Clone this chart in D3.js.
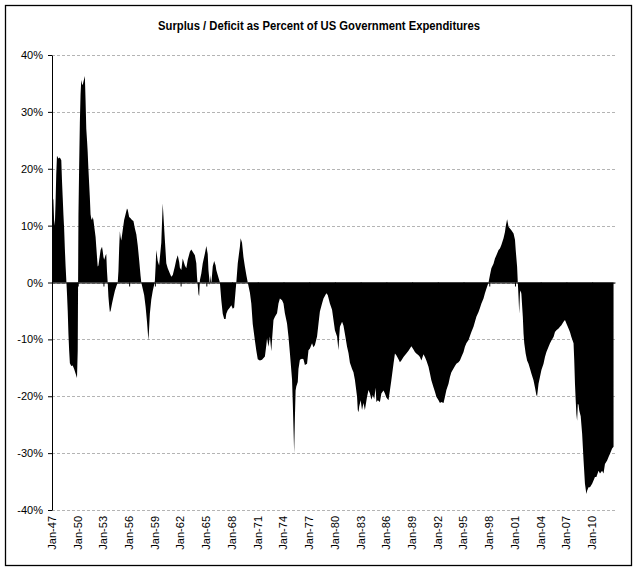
<!DOCTYPE html>
<html><head><meta charset="utf-8">
<script src="https://cdn.jsdelivr.net/npm/d3@7"></script>
<style>body{margin:0;background:#fff}svg{display:block}</style>
</head><body><svg id="c" width="638" height="571"></svg>
<script>
const title = "Surplus / Deficit as Percent of US Government Expenditures";
const dates = [
"1947-01","1947-03","1947-04","1947-05","1947-06","1947-07","1947-08","1947-10","1947-12",
"1948-02","1948-03","1948-04","1948-05","1948-06","1948-07","1948-08","1948-09","1948-10","1948-11","1948-12",
"1949-01","1949-02","1949-04","1949-06","1949-08","1949-10","1949-12",
"1950-01","1950-02","1950-03","1950-04","1950-05","1950-06","1950-07","1950-08","1950-09","1950-10","1950-11","1950-12",
"1951-01","1951-02","1951-03","1951-04","1951-05","1951-06","1951-07","1951-08","1951-09","1951-10","1951-11","1951-12",
"1952-01","1952-02","1952-03","1952-04","1952-05","1952-06","1952-07","1952-08","1952-09","1952-11","1952-12",
"1953-01","1953-02","1953-04","1953-05","1953-06","1953-07","1953-08","1953-09","1953-10","1953-11",
"1954-01","1954-03","1954-05","1954-07","1954-09","1954-10","1954-11","1954-12",
"1955-01","1955-02","1955-04","1955-06","1955-08","1955-10","1955-11",
"1956-01","1956-03","1956-05","1956-07","1956-09","1956-11",
"1957-01","1957-03","1957-05","1957-06","1957-08","1957-10","1957-12",
"1958-02","1958-04","1958-05","1958-06","1958-08","1958-10","1958-12",
"1959-01","1959-02","1959-03","1959-05","1959-07","1959-10","1959-12",
"1960-03","1960-05","1960-07","1960-10","1960-12",
"1961-02","1961-05","1961-07","1961-09","1961-11","1961-12",
"1962-02","1962-04","1962-07","1962-09","1962-11",
"1963-02","1963-04","1963-06","1963-09","1963-11","1963-12",
"1964-02","1964-03","1964-04","1964-06","1964-08","1964-11",
"1965-01","1965-03","1965-04","1965-06","1965-07","1965-08","1965-10","1965-12",
"1966-02","1966-03","1966-05","1966-08","1966-10","1966-12",
"1967-02","1967-04","1967-05","1967-07","1967-10","1967-12",
"1968-02","1968-04","1968-06","1968-07","1968-09","1968-12",
"1969-01","1969-03","1969-05","1969-07","1969-09","1969-11",
"1970-02","1970-04","1970-06","1970-09","1970-11",
"1971-01","1971-04","1971-07","1971-11",
"1972-01","1972-02","1972-04","1972-06","1972-08","1972-09","1972-11",
"1973-01","1973-04","1973-06","1973-08","1973-11",
"1974-01","1974-03","1974-06","1974-08","1974-10",
"1975-01","1975-02","1975-03","1975-04","1975-05","1975-06","1975-07","1975-09","1975-10","1975-12",
"1976-03","1976-05","1976-07","1976-10","1976-12",
"1977-02","1977-05","1977-07","1977-09","1977-12",
"1978-02","1978-04","1978-07","1978-09",
"1979-01","1979-03","1979-06","1979-09","1979-11",
"1980-01","1980-04","1980-06","1980-07","1980-08","1980-11",
"1981-01","1981-03","1981-06","1981-08","1981-10",
"1982-01","1982-03","1982-05","1982-08","1982-09","1982-10","1982-11",
"1983-01","1983-03","1983-05","1983-07","1983-10","1983-12",
"1984-02","1984-04","1984-06","1984-08","1984-10","1984-11",
"1985-01","1985-04","1985-06","1985-09","1985-11",
"1986-01","1986-04","1986-06","1986-08","1986-11",
"1987-01","1987-03","1987-06","1987-08","1987-10",
"1988-01","1988-03","1988-05","1988-08","1988-10","1988-12",
"1989-03","1989-05","1989-07","1989-10","1989-12",
"1990-02","1990-05","1990-07","1990-09","1990-12",
"1991-02","1991-04","1991-07","1991-09","1991-11",
"1992-02","1992-04","1992-06","1992-09","1992-11",
"1993-01","1993-04","1993-06","1993-08","1993-11",
"1994-01","1994-03","1994-06","1994-08","1994-10",
"1995-01","1995-03","1995-05","1995-08","1995-10","1995-12",
"1996-03","1996-05","1996-07","1996-10","1996-12",
"1997-02","1997-05","1997-07","1997-09","1997-12",
"1998-02","1998-04","1998-07","1998-09","1998-11",
"1999-02","1999-04","1999-06","1999-09","1999-11","1999-12",
"2000-02","2000-04","2000-06","2000-08","2000-11",
"2001-01","2001-02","2001-04","2001-05","2001-06","2001-07","2001-08","2001-09","2001-10","2001-12",
"2002-01","2002-02","2002-04","2002-06","2002-08","2002-10","2002-12",
"2003-03","2003-05","2003-07","2003-08","2003-10","2003-12",
"2004-02","2004-05","2004-07","2004-09","2004-12",
"2005-02","2005-04","2005-07","2005-09","2005-11",
"2006-02","2006-04","2006-06","2006-09","2006-11",
"2007-01","2007-04","2007-06","2007-08","2007-11","2007-12",
"2008-01","2008-02","2008-03","2008-04","2008-05","2008-06","2008-07","2008-09","2008-11",
"2009-01","2009-03","2009-05","2009-06","2009-08","2009-10",
"2010-01","2010-03","2010-05","2010-07","2010-10","2010-12",
"2011-03","2011-05","2011-07","2011-10","2011-12",
"2012-02","2012-05","2012-07"
];
const values = [
15.5,14.5,11,10,14,19,22.3,21.8,22,
21.5,18,15,12,9.5,6,3,0.5,-2,-5,-9,
-12,-14.2,-14.7,-14.6,-15.2,-16,-16.8,
-12,12,20,28,33,35.6,35,34.7,35.3,35.8,36.3,32,
27,25,23,20,17.5,15,12,11.2,11,11.5,11,10,
9,8,6.3,4.5,2.8,3,3.9,4.8,5.7,6.3,5.5,
4.5,4,4.8,5,2,0,-2.5,-4,-5.2,-5,
-3.7,-2.6,-1.5,-0.7,0,2,6,9,
8,7.4,9.2,11,12,13,12.8,
11.5,11.3,11,10.8,9.5,8.5,
6.5,4,1.2,0,-1.1,-2.2,-4.2,
-7,-10.2,-8,-5.5,-3,-1.5,-0.4,
0.3,2.8,5.7,3.8,3,7,13.9,
7.5,3.4,2.5,1.6,1,
1.3,2.8,4,4.8,3.6,2.6,
2.2,4.2,3,2.5,4,
5.4,5.8,5.4,4.8,3.4,1,
-2,-2.4,0.4,1.6,3.4,5.1,
6.4,5,2.2,-0.5,1.3,-0.3,2.8,3.8,
3,2.2,1.3,0,-3.1,-5.5,
-6.4,-6.4,-5.5,-4.9,-4.4,-4,
-4.6,-4.4,-1.4,0,3.4,6.3,
7.8,7,4.5,2.8,1.3,0,
-1.8,-3.7,-7.3,-10.2,-12,
-13.5,-13.7,-13.6,-13,
-11,-9.8,-11.3,-9.5,-12.1,-10,-6.6,
-6,-5.4,-3.7,-2.8,-3.1,
-3.7,-5.4,-7.2,-9.5,-12.4,
-17.1,-21.2,-25.4,-30,-24,-19,-18.3,-17.5,-15.2,-13.6,
-13.4,-13.5,-14.5,-14.3,-11.9,
-11.6,-10.7,-11.4,-11,-9.5,
-7.2,-5.1,-3.7,-2.8,
-1.9,-2.2,-3.7,-4.8,-6.6,
-8.4,-9.5,-11.9,-9.5,-7.8,-6.9,
-7.6,-9,-11.3,-12.4,-14.1,
-15.2,-15.8,-17.1,-20.1,-22.4,-22.8,-21.8,
-20.7,-22.4,-21.2,-22.4,-20.1,-18.9,
-19.5,-20.6,-19.8,-20.5,-18.5,-21,
-20.7,-21,-19.5,-19,-19.5,
-20.2,-20.7,-19,-17.2,-14.3,
-12.5,-12.8,-13.5,-14,-13.7,
-13.1,-12.8,-12.5,-12,-11.6,-11.2,
-11.8,-12.2,-12.5,-12.8,-13.1,
-13.7,-12.6,-13.1,-13.7,-14.8,
-16,-17.2,-18.4,-19.2,-20.1,
-20.7,-21.2,-21,-21.2,-20.1,
-18.9,-17.8,-16.6,-15.8,-15.1,
-14.7,-14.3,-14,-13.7,-13.1,
-12.2,-11.3,-10.7,-10.1,-9.4,-8.7,
-7.8,-6.9,-6,-5.2,-4.5,
-3.7,-2.8,-1.9,-1.1,0,
1.3,2.5,3.3,4.2,4.8,
5.7,6,6.6,7.8,8.9,9.8,
11.1,9.8,9.5,9.2,8.6,
7.5,5.7,2.8,0,-2.5,-5.5,-1.8,-1.4,-2,-6,
-9,-10.7,-12.5,-13.7,-14.3,-15.1,-16,
-17.2,-18.4,-19.8,-20,-17.8,-16.6,
-15.4,-14.3,-13.1,-12.2,-11.3,
-10.7,-10.2,-9.6,-8.7,-8.4,
-8.1,-7.8,-7.5,-6.9,-6.6,
-7.2,-8.1,-8.7,-9.6,-10.7,-13.7,
-17.8,-20.7,-23.1,-24.3,-21.3,-21.5,-22.5,-23.5,-26.6,
-31.3,-35.4,-37.2,-36.6,-36,-36,
-35.4,-34.8,-34.2,-34.2,-33.1,-33.6,
-33.1,-33.6,-31.9,-31.3,-30.7,
-30.1,-29.2,-28.9
];
const yTicks = [40,30,20,10,0,-10,-20,-30,-40];
const xTickYears = [1947,1950,1953,1956,1959,1962,1965,1968,1971,1974,1977,1980,1983,1986,1989,1992,1995,1998,2001,2004,2007,2010];

const parse = d3.timeParse("%Y-%m");
const data = dates.map((d,i)=>({date: parse(d), value: values[i]}));
const tickDates = xTickYears.map(yr => new Date(yr, 0, 1));
const fmt = d3.timeFormat("%b-%y");

const svg = d3.select("#c");
const font = "'Liberation Sans', Arial, sans-serif";

const x = d3.scaleTime().domain([parse("1947-01"), parse("2012-09")]).range([52, 615]);
const y = d3.scaleLinear().domain([-40, 40]).range([510, 55]);

svg.append("rect").attr("x",0).attr("y",0).attr("width",638).attr("height",571).attr("fill","#fff");
svg.append("rect").attr("x",5.5).attr("y",5.5).attr("width",626).attr("height",560)
  .attr("fill","none").attr("stroke","#000").attr("stroke-width",1.3);

svg.append("text").attr("x",319).attr("y",30).attr("text-anchor","middle")
  .attr("font-family","'Liberation Sans Narrow','Arial Narrow','Liberation Sans',Arial,sans-serif")
  .attr("font-weight","bold").attr("font-size",12)
  .attr("textLength",322).attr("lengthAdjust","spacingAndGlyphs")
  .text(title);

// gridlines
svg.append("g").selectAll("line").data(yTicks).join("line")
  .attr("x1",52).attr("x2",615)
  .attr("y1",d=>Math.round(y(d))+0.5).attr("y2",d=>Math.round(y(d))+0.5)
  .attr("stroke","#b4b4b4").attr("stroke-width",1).attr("stroke-dasharray","3,2");

// area
const area = d3.area().x(d=>x(d.date)).y0(y(0)).y1(d=>y(d.value));
svg.append("path").datum(data).attr("d",area).attr("fill","#000");

// zero axis with ticks
const gx = svg.append("g").attr("transform",`translate(0,${y(0)})`)
  .call(d3.axisBottom(x).tickValues(tickDates).tickFormat("").tickSize(4).tickSizeOuter(0));
gx.select(".domain").attr("stroke","#000");
gx.selectAll(".tick line").attr("stroke","#000");

// y axis
const gy = svg.append("g").attr("transform","translate(52,0)")
  .call(d3.axisLeft(y).tickValues(yTicks).tickFormat(d=>d+"%").tickSize(4).tickPadding(5).tickSizeOuter(0));
gy.select(".domain").attr("stroke","#000");
gy.selectAll(".tick line").attr("stroke","#000");
gy.selectAll("text").attr("font-family",font).attr("font-size",11).attr("fill","#000");

// bottom labels
svg.append("g").selectAll("text").data(tickDates).join("text")
  .attr("transform",d=>`translate(${x(d)},516) rotate(-90)`)
  .attr("text-anchor","end").attr("dy","0.35em")
  .attr("font-family",font).attr("font-size",11).attr("fill","#000")
  .text(d=>fmt(d));
</script></body></html>
